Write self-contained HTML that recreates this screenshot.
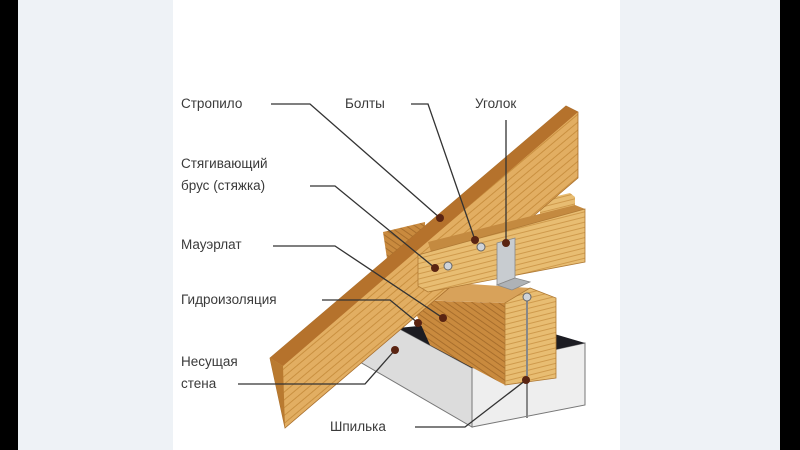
<!DOCTYPE html>
<html><head><meta charset="utf-8"><style>
html,body{margin:0;padding:0;width:800px;height:450px;overflow:hidden;background:#000}
svg{display:block}
text{font-family:"Liberation Sans","Noto Sans CJK SC",sans-serif;font-size:13.5px;fill:#3a3a3a}
</style></head><body>
<svg width="800" height="450" viewBox="0 0 800 450" xmlns="http://www.w3.org/2000/svg">
<defs>
<pattern id="g" width="6" height="6" patternUnits="userSpaceOnUse" patternTransform="rotate(-40)">
<rect width="6" height="6" fill="#e2ae62"/><line x1="0" y1="3" x2="6" y2="3" stroke="#c99040" stroke-width="1"/></pattern>
<pattern id="g2" width="6" height="5" patternUnits="userSpaceOnUse" patternTransform="rotate(-14)">
<rect width="6" height="5" fill="#e8bd72"/><line x1="0" y1="2" x2="6" y2="2" stroke="#cf9a4c" stroke-width="1"/></pattern>
<pattern id="g3" width="6" height="5" patternUnits="userSpaceOnUse" patternTransform="rotate(35)">
<rect width="6" height="5" fill="#c98a3e"/><line x1="0" y1="2" x2="6" y2="2" stroke="#a86e2c" stroke-width="1"/></pattern>
</defs>
<rect x="0" y="0" width="800" height="450" fill="#000"/>
<rect x="18" y="0" width="762" height="450" fill="#eef2f6"/>
<rect x="173" y="0" width="447" height="450" fill="#fff"/>

<!-- wall -->
<polygon points="360,362 398,328 472,368 472,427" fill="#dcdcdc" stroke="#777" stroke-width="1"/>
<polygon points="472,368 585,343 585,405 472,427" fill="#eeeeee" stroke="#777" stroke-width="1"/>
<polygon points="398,328 500,318 585,343 472,368" fill="#1c1c22"/>
<!-- mauerlat -->
<polygon points="415,300 455,283 530,288 505,303" fill="#d8a25a"/>
<polygon points="410,300 505,303 505,385 430,345" fill="url(#g3)"/>
<polygon points="505,303 530,288 556,298 556,378 505,385" fill="url(#g2)" stroke="#b07a35" stroke-width="0.8"/>
<!-- rear mauerlat end -->
<polygon points="383,232 425,222 425,300 392,292" fill="url(#g3)"/>
<!-- rear second board -->
<polygon points="540,200 570,193 575,197 575,215 540,222" fill="url(#g2)"/>
<!-- rafter -->
<polygon points="270,358 566,106 578,112 578,178 285,428" fill="url(#g)" stroke="#a86e2c" stroke-width="0.8"/>
<polygon points="270,358 566,106 578,112 283,366" fill="#b5722c"/>
<polygon points="270,358 283,366 285,428" fill="#b97a30"/>
<!-- tie beam -->
<polygon points="428,242 575,205 585,209 432,255" fill="#c48a40"/>
<polygon points="418,255 585,209 585,262 428,292 418,286" fill="url(#g2)" stroke="#b07a35" stroke-width="0.8"/>
<!-- angle bracket -->
<polygon points="497,243 515,238 515,278 497,285" fill="#c8ccd0" stroke="#888" stroke-width="0.8"/>
<polygon points="497,285 515,278 530,282 512,290" fill="#aeb2b6" stroke="#888" stroke-width="0.8"/>
<!-- bolts -->
<circle cx="448" cy="266" r="4" fill="#cfd3d8" stroke="#666"/>
<circle cx="481" cy="247" r="4" fill="#cfd3d8" stroke="#666"/>
<!-- stud -->
<line x1="527" y1="298" x2="527" y2="418" stroke="#888" stroke-width="2"/>
<circle cx="527" cy="297" r="4" fill="#cfd3d8" stroke="#666"/>

<!-- leader lines -->
<g stroke="#333" stroke-width="1.3" fill="none">
<polyline points="271,104 310,104 440,218"/>
<polyline points="411,104 428,104 475,240"/>
<polyline points="506,120 506,243"/>
<polyline points="310,186 335,186 435,268"/>
<polyline points="273,246 335,246 443,318"/>
<polyline points="322,300 390,300 418,323"/>
<polyline points="238,384 365,384 395,350"/>
<polyline points="415,427 465,427 526,380"/>
</g>
<g fill="#5a2412">
<circle cx="440" cy="218" r="4"/><circle cx="475" cy="240" r="4"/><circle cx="506" cy="243" r="4"/>
<circle cx="435" cy="268" r="4"/><circle cx="443" cy="318" r="4"/><circle cx="418" cy="323" r="4"/>
<circle cx="395" cy="350" r="4"/><circle cx="526" cy="380" r="4"/>
</g>

<text x="181" y="108">Стропило</text>
<text x="345" y="108">Болты</text>
<text x="475" y="108">Уголок</text>
<text x="181" y="168">Стягивающий</text>
<text x="181" y="190">брус (стяжка)</text>
<text x="181" y="249">Мауэрлат</text>
<text x="181" y="304">Гидроизоляция</text>
<text x="181" y="366">Несущая</text>
<text x="181" y="388">стена</text>
<text x="330" y="431">Шпилька</text>
</svg>
</body></html>
